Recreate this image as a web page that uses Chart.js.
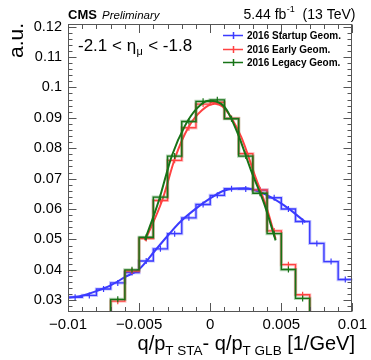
<!DOCTYPE html>
<html>
<head>
<meta charset="utf-8">
<script src="https://cdn.jsdelivr.net/npm/chart.js@4.4.1/dist/chart.umd.min.js"></script>
<style>
  html, body { margin: 0; padding: 0; background: #fff; }
  #c { display: block; }
</style>
</head>
<body>
<canvas id="c" width="371" height="360"></canvas>
<script>
// ---------------- data ----------------
const binEdges = [-0.010, -0.009, -0.008, -0.007, -0.006, -0.005, -0.004, -0.003, -0.002, -0.001, 0.000,
                  0.001, 0.002, 0.003, 0.004, 0.005, 0.006, 0.007, 0.008, 0.009, 0.010];

// 2016 Startup Geom. (blue) histogram
const startupValues = [0.0310, 0.0316, 0.0337, 0.0357, 0.0391, 0.0429, 0.0469, 0.0519, 0.0571, 0.0615,
                       0.0645, 0.0667, 0.0666, 0.0662, 0.0637, 0.0600, 0.0559, 0.0487, 0.0427, 0.0368];
// 2016 Early Geom. (red) histogram (outer bins lie below the visible range)
const earlyValues   = [0.015, 0.019, 0.024, 0.0297, 0.0396, 0.0503, 0.0628, 0.0760, 0.0867, 0.0945,
                       0.0951, 0.0898, 0.0782, 0.0663, 0.0528, 0.0417, 0.0318, 0.024, 0.019, 0.015];
// 2016 Legacy Geom. (green) histogram
const legacyValues  = [0.015, 0.019, 0.024, 0.0303, 0.0400, 0.0507, 0.0639, 0.0774, 0.0888, 0.0954,
                       0.0959, 0.0897, 0.0774, 0.0652, 0.0519, 0.0401, 0.0306, 0.023, 0.018, 0.014];

// fitted curves
const startupFitX = [-0.0100, -0.0090, -0.0080, -0.0070, -0.0060, -0.0050, -0.0039, -0.0029, -0.0021, -0.0011,
                     0.0001, 0.0010, 0.0024, 0.0038, 0.0052, 0.0067];
const startupFitY = [0.0308, 0.0315, 0.0330, 0.0349, 0.0376, 0.0402, 0.0462, 0.0517, 0.0558, 0.0598,
                     0.0638, 0.0661, 0.0668, 0.0650, 0.0612, 0.0557];
const earlyFitX = [-0.00458, -0.00338, -0.00245, -0.00153, -0.00060, 0.00032, 0.00102, 0.00218, 0.00310, 0.00403, 0.00460];
const earlyFitY = [0.0496, 0.0628, 0.0771, 0.0869, 0.0924, 0.0946, 0.0930, 0.0837, 0.0716, 0.0595, 0.0502];
const legacyFitX = [-0.00458, -0.00361, -0.00269, -0.00176, -0.00095, -0.00014, 0.00102, 0.00194, 0.00287, 0.00380, 0.00460];
const legacyFitY = [0.0499, 0.0628, 0.0776, 0.0875, 0.0930, 0.0956, 0.0935, 0.0848, 0.0727, 0.0617, 0.0497];

// axes
const xMajorTicks = [-0.01, -0.005, 0, 0.005, 0.01];
const xMinorTicks = [-0.009, -0.008, -0.007, -0.006, -0.004, -0.003, -0.002, -0.001,
                     0.001, 0.002, 0.003, 0.004, 0.006, 0.007, 0.008, 0.009];
const yMajorTicks = [0.03, 0.04, 0.05, 0.06, 0.07, 0.08, 0.09, 0.10, 0.11, 0.12];
const yMinorTicks = [0.028, 0.032, 0.034, 0.036, 0.038, 0.042, 0.044, 0.046, 0.048, 0.052, 0.054, 0.056, 0.058,
                     0.062, 0.064, 0.066, 0.068, 0.072, 0.074, 0.076, 0.078, 0.082, 0.084, 0.086, 0.088,
                     0.092, 0.094, 0.096, 0.098, 0.102, 0.104, 0.106, 0.108, 0.112, 0.114, 0.116, 0.118];
const xMin = -0.01, xMax = 0.01, yMin = 0.0263, yMax = 0.1210;

const seriesNames = ['2016 Startup Geom.', '2016 Early Geom.', '2016 Legacy Geom.'];
const seriesColors = ['#3b3bff', '#ff4242', '#177317'];
const seriesHalo = ['rgba(59,59,255,0.30)', 'rgba(255,66,66,0.30)', 'rgba(23,115,23,0.30)'];

// ---------------- build datasets ----------------
function stepPoints(vals) {
  const pts = [];
  for (let i = 0; i < vals.length; i++) {
    pts.push({x: binEdges[i], y: vals[i]});
    pts.push({x: binEdges[i + 1], y: vals[i]});
  }
  return pts;
}
function centerPoints(vals) {
  return vals.map((v, i) => ({x: (binEdges[i] + binEdges[i + 1]) / 2, y: v}));
}
function curvePoints(xs, ys) { return xs.map((x, i) => ({x: x, y: ys[i]})); }

const allValues = [startupValues, earlyValues, legacyValues];
const fits = [[startupFitX, startupFitY], [earlyFitX, earlyFitY], [legacyFitX, legacyFitY]];
const datasets = [];
allValues.forEach((vals, s) => {
  const base = (3 - s) * 10;
  datasets.push({type: 'line', data: stepPoints(vals), borderColor: seriesHalo[s], borderWidth: 3.2,
                 pointRadius: 0, tension: 0, fill: false, order: base + 4});
  datasets.push({type: 'line', data: stepPoints(vals), borderColor: seriesColors[s], borderWidth: 1.4,
                 pointRadius: 0, tension: 0, fill: false, order: base + 3});
  datasets.push({type: 'scatter', data: centerPoints(vals), borderColor: seriesColors[s], backgroundColor: seriesColors[s],
                 pointStyle: 'line', rotation: 90, pointRadius: 3, borderWidth: 1.2, order: base + 2});
  datasets.push({type: 'line', data: curvePoints(fits[s][0], fits[s][1]), borderColor: seriesColors[s], borderWidth: 2,
                 pointRadius: 0, tension: 0.4, cubicInterpolationMode: 'monotone', fill: false, order: base + 1});
});

const FONT = '"Liberation Sans", Arial, Helvetica, sans-serif';

// ---------------- plugin: frame, inward ticks, texts, legend ----------------
const rootStyle = {
  id: 'rootStyle',
  afterDatasetsDraw(chart) {
    const ctx = chart.ctx;
    const a = chart.chartArea;
    const xs = chart.scales.x, ys = chart.scales.y;
    const L = Math.round(a.left) + 0.5, R = Math.round(a.right) - 0.5;
    const T = Math.round(a.top) + 0.5, B = Math.round(a.bottom) - 0.5;
    ctx.save();
    ctx.strokeStyle = '#555';
    ctx.lineWidth = 1;
    ctx.strokeRect(L, T, R - L, B - T);
    ctx.beginPath();
    const xt = (v, len) => {
      const p = Math.round(xs.getPixelForValue(v)) + 0.5;
      ctx.moveTo(p, B); ctx.lineTo(p, B - len);
      ctx.moveTo(p, T); ctx.lineTo(p, T + len);
    };
    const yt = (v, len) => {
      const p = Math.round(ys.getPixelForValue(v)) + 0.5;
      if (p < T || p > B) return;
      ctx.moveTo(L, p); ctx.lineTo(L + len, p);
      ctx.moveTo(R, p); ctx.lineTo(R - len, p);
    };
    xMajorTicks.forEach(v => xt(v, 8.5));
    xMinorTicks.forEach(v => xt(v, 4.5));
    yMajorTicks.forEach(v => yt(v, 8));
    yMinorTicks.forEach(v => yt(v, 4));
    ctx.stroke();
    ctx.restore();
  },
  afterDraw(chart) {
    const ctx = chart.ctx;
    ctx.save();
    ctx.fillStyle = '#000';
    ctx.textBaseline = 'alphabetic';
    // header
    ctx.font = 'bold 13px ' + FONT;
    ctx.textAlign = 'left';
    ctx.fillText('CMS', 68, 19);
    ctx.font = 'italic 11.5px ' + FONT;
    ctx.fillText('Preliminary', 102, 19);
    // luminosity, right aligned
    const lumiMain = '5.44 fb', lumiSup = '-1', lumiTail = '  (13 TeV)';
    ctx.font = '14px ' + FONT;
    const w1 = ctx.measureText(lumiMain).width, w3 = ctx.measureText(lumiTail).width;
    ctx.font = '9px ' + FONT;
    const w2 = ctx.measureText(lumiSup).width;
    let x0 = 355 - (w1 + w2 + w3);
    ctx.font = '14px ' + FONT;
    ctx.fillText(lumiMain, x0, 19);
    ctx.font = '9px ' + FONT;
    ctx.fillText(lumiSup, x0 + w1 + 0.5, 12);
    ctx.font = '14px ' + FONT;
    ctx.fillText(lumiTail, x0 + w1 + w2 + 0.5, 19);
    // eta range
    ctx.font = '17px ' + FONT;
    let x = 78;
    const p1 = '-2.1 < \u03B7';
    ctx.fillText(p1, x, 51); x += ctx.measureText(p1).width;
    ctx.font = '11px ' + FONT;
    ctx.fillText('\u03BC', x + 0.5, 55); x += ctx.measureText('\u03BC').width + 1;
    ctx.font = '17px ' + FONT;
    ctx.fillText(' < -1.8', x, 51);
    // y title
    ctx.save();
    ctx.translate(23, 23);
    ctx.rotate(-Math.PI / 2);
    ctx.font = '21px ' + FONT;
    ctx.textAlign = 'right';
    ctx.fillText('a.u.', 0, 0);
    ctx.restore();
    // x title with subscripts, right aligned at 355
    const parts = [['q/p', 20, 0], ['T STA', 13.5, 5], ['- q/p', 20, 0], ['T GLB', 13.5, 5], [' [1/GeV]', 20, 0]];
    let tot = 0;
    parts.forEach(p => { ctx.font = p[1] + 'px ' + FONT; tot += ctx.measureText(p[0]).width; });
    x = 355 - tot;
    parts.forEach(p => {
      ctx.font = p[1] + 'px ' + FONT;
      ctx.fillText(p[0], x, 350 + p[2]);
      x += ctx.measureText(p[0]).width;
    });
    // legend
    const rows = [35, 49, 62];
    seriesNames.forEach((name, i) => {
      const y = rows[i];
      ctx.strokeStyle = seriesColors[i];
      ctx.lineWidth = 1.5;
      ctx.beginPath();
      ctx.moveTo(223, y + 0.5); ctx.lineTo(243, y + 0.5);
      ctx.moveTo(233.5, y - 3); ctx.lineTo(233.5, y + 4);
      ctx.stroke();
      ctx.fillStyle = '#000';
      ctx.font = 'bold 10px ' + FONT;
      ctx.textAlign = 'left';
      ctx.textBaseline = 'middle';
      ctx.fillText(name, 247, y + 1);
    });
    ctx.restore();
  }
};

new Chart(document.getElementById('c'), {
  data: { datasets: datasets },
  options: {
    responsive: false,
    animation: false,
    devicePixelRatio: 1,
    layout: { padding: { left: 0, top: 23.5, right: 15, bottom: 0 } },
    plugins: { legend: { display: false }, tooltip: { enabled: false }, title: { display: false } },
    scales: {
      x: {
        type: 'linear', min: xMin, max: xMax,
        grid: { display: false, drawTicks: false },
        border: { display: false },
        afterBuildTicks: s => { s.ticks = xMajorTicks.map(v => ({value: v})); },
        afterFit: s => { s.height = 48.5; },
        ticks: {
          autoSkip: false, maxRotation: 0, padding: 4, color: '#000',
          font: { family: FONT, size: 15 },
          callback: v => (Math.abs(v) < 1e-12 ? '0' : (v < 0 ? '\u2212' : '') + String(Math.round(Math.abs(v) * 1000) / 1000))
        }
      },
      y: {
        type: 'linear', min: yMin, max: yMax,
        grid: { display: false, drawTicks: false },
        border: { display: false },
        afterBuildTicks: s => { s.ticks = yMajorTicks.map(v => ({value: v})); },
        afterFit: s => { s.width = 68; },
        ticks: {
          autoSkip: false, padding: 6, color: '#000',
          font: { family: FONT, size: 14.5 },
          callback: v => String(Math.round(v * 100) / 100)
        }
      }
    }
  },
  plugins: [rootStyle]
});
</script>
</body>
</html>
